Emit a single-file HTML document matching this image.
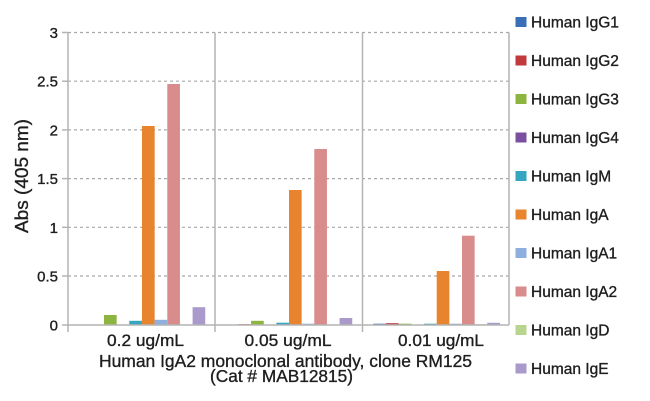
<!DOCTYPE html>
<html>
<head>
<meta charset="utf-8">
<style>
  html,body{margin:0;padding:0;background:#fff;}
  svg{display:block;}
  text{font-family:"Liberation Sans",Arial,sans-serif;fill:#1e1e1e;stroke:#1e1e1e;stroke-width:0.35;}
</style>
</head>
<body>
<svg width="650" height="401" viewBox="0 0 650 401" xmlns="http://www.w3.org/2000/svg">
  <rect x="0" y="0" width="650" height="401" fill="#fff"/>
  <!-- gridlines -->
  <g stroke="#a8a8a8" stroke-width="1.2" stroke-dasharray="3,3">
    <line x1="68" y1="32.5" x2="509" y2="32.5"/>
    <line x1="68" y1="81.2" x2="509" y2="81.2"/>
    <line x1="68" y1="129.9" x2="509" y2="129.9"/>
    <line x1="68" y1="178.6" x2="509" y2="178.6"/>
    <line x1="68" y1="227.3" x2="509" y2="227.3"/>
    <line x1="68" y1="276" x2="509" y2="276"/>
  </g>
  <!-- bars panel 1 -->
  <g>
    <rect x="104.0" y="315.0" width="12.65" height="9.7" fill="#8db43e"/>
    <rect x="129.3" y="320.8" width="12.65" height="3.9" fill="#34a6bf"/>
    <rect x="142.0" y="126.0" width="12.65" height="198.7" fill="#e8832e"/>
    <rect x="154.6" y="319.8" width="12.65" height="4.9" fill="#8fb0de"/>
    <rect x="167.3" y="84.0" width="12.65" height="240.7" fill="#d98c8c"/>
    <rect x="192.6" y="307.2" width="12.65" height="17.5" fill="#a99acb"/>
  </g>
  <!-- bars panel 2 -->
  <g>
    <rect x="238.4" y="324.2" width="12.65" height="0.5" fill="#c0393b"/>
    <rect x="251.1" y="320.8" width="12.65" height="3.9" fill="#8db43e"/>
    <rect x="276.4" y="322.7" width="12.65" height="2" fill="#34a6bf"/>
    <rect x="289.0" y="190.0" width="12.65" height="134.7" fill="#e8832e"/>
    <rect x="301.7" y="323.7" width="12.65" height="1" fill="#8fb0de"/>
    <rect x="314.3" y="149.0" width="12.65" height="175.7" fill="#d98c8c"/>
    <rect x="339.6" y="318.0" width="12.65" height="6.7" fill="#a99acb"/>
  </g>
  <!-- bars panel 3 -->
  <g>
    <rect x="373.4" y="323.7" width="12.65" height="1" fill="#3a6fb8"/>
    <rect x="386.0" y="323.2" width="12.65" height="1.5" fill="#c0393b"/>
    <rect x="398.7" y="323.7" width="12.65" height="1" fill="#8db43e"/>
    <rect x="424.0" y="323.7" width="12.65" height="1" fill="#34a6bf"/>
    <rect x="436.7" y="271.0" width="12.65" height="53.7" fill="#e8832e"/>
    <rect x="449.3" y="323.7" width="12.65" height="1" fill="#8fb0de"/>
    <rect x="462.0" y="235.7" width="12.65" height="89" fill="#d98c8c"/>
    <rect x="474.6" y="324.2" width="12.65" height="0.5" fill="#b9d48e"/>
    <rect x="487.3" y="322.8" width="12.65" height="1.9" fill="#a99acb"/>
  </g>
  <!-- axes -->
  <g stroke="#b4b4b4" stroke-width="1.5" fill="none">
    <line x1="68" y1="32.5" x2="68" y2="332"/>
    <line x1="215" y1="32.5" x2="215" y2="332"/>
    <line x1="362.5" y1="32.5" x2="362.5" y2="332"/>
    <line x1="509" y1="32.5" x2="509" y2="325"/>
    <line x1="68" y1="325" x2="509" y2="325"/>
    <line x1="62" y1="32.5" x2="68" y2="32.5"/>
    <line x1="62" y1="81.2" x2="68" y2="81.2"/>
    <line x1="62" y1="129.9" x2="68" y2="129.9"/>
    <line x1="62" y1="178.6" x2="68" y2="178.6"/>
    <line x1="62" y1="227.3" x2="68" y2="227.3"/>
    <line x1="62" y1="276" x2="68" y2="276"/>
    <line x1="62" y1="325" x2="68" y2="325"/>
  </g>
  <!-- y tick labels -->
  <g font-size="15" text-anchor="end">
    <text x="58" y="38">3</text>
    <text x="58" y="86.7">2.5</text>
    <text x="58" y="135.4">2</text>
    <text x="58" y="184.1">1.5</text>
    <text x="58" y="232.8">1</text>
    <text x="58" y="281.5">0.5</text>
    <text x="58" y="330.5">0</text>
  </g>
  <!-- y title -->
  <text transform="translate(28,176) rotate(-90)" font-size="18" text-anchor="middle" textLength="114" lengthAdjust="spacingAndGlyphs">Abs (405 nm)</text>
  <!-- x labels -->
  <g font-size="17" text-anchor="middle">
    <text x="145.5" y="346" textLength="77" lengthAdjust="spacingAndGlyphs">0.2 ug/mL</text>
    <text x="288" y="346" textLength="87" lengthAdjust="spacingAndGlyphs">0.05 ug/mL</text>
    <text x="441" y="346" textLength="86" lengthAdjust="spacingAndGlyphs">0.01 ug/mL</text>
  </g>
  <!-- x title -->
  <text x="285.5" y="367" font-size="17.5" text-anchor="middle" textLength="373" lengthAdjust="spacingAndGlyphs">Human IgA2 monoclonal antibody, clone RM125</text>
  <text x="281.5" y="382" font-size="17.5" text-anchor="middle" textLength="143" lengthAdjust="spacingAndGlyphs">(Cat # MAB12815)</text>
  <!-- legend -->
  <g font-size="15.5">
    <rect x="515.5" y="17" width="11" height="10" fill="#3a6fb8"/>
    <text x="531" y="27.5">Human IgG1</text>
    <rect x="515.5" y="55.5" width="11" height="10" fill="#c0393b"/>
    <text x="531" y="66">Human IgG2</text>
    <rect x="515.5" y="94" width="11" height="10" fill="#8db43e"/>
    <text x="531" y="104.5">Human IgG3</text>
    <rect x="515.5" y="132.5" width="11" height="10" fill="#7a4fa0"/>
    <text x="531" y="143">Human IgG4</text>
    <rect x="515.5" y="171" width="11" height="10" fill="#34a6bf"/>
    <text x="531" y="181.5">Human IgM</text>
    <rect x="515.5" y="209.5" width="11" height="10" fill="#e8832e"/>
    <text x="531" y="220">Human IgA</text>
    <rect x="515.5" y="248" width="11" height="10" fill="#8fb0de"/>
    <text x="531" y="258.5">Human IgA1</text>
    <rect x="515.5" y="286.5" width="11" height="10" fill="#d98c8c"/>
    <text x="531" y="297">Human IgA2</text>
    <rect x="515.5" y="325" width="11" height="10" fill="#b9d48e"/>
    <text x="531" y="335.5">Human IgD</text>
    <rect x="515.5" y="363.5" width="11" height="10" fill="#a99acb"/>
    <text x="531" y="374">Human IgE</text>
  </g>
</svg>
</body>
</html>
